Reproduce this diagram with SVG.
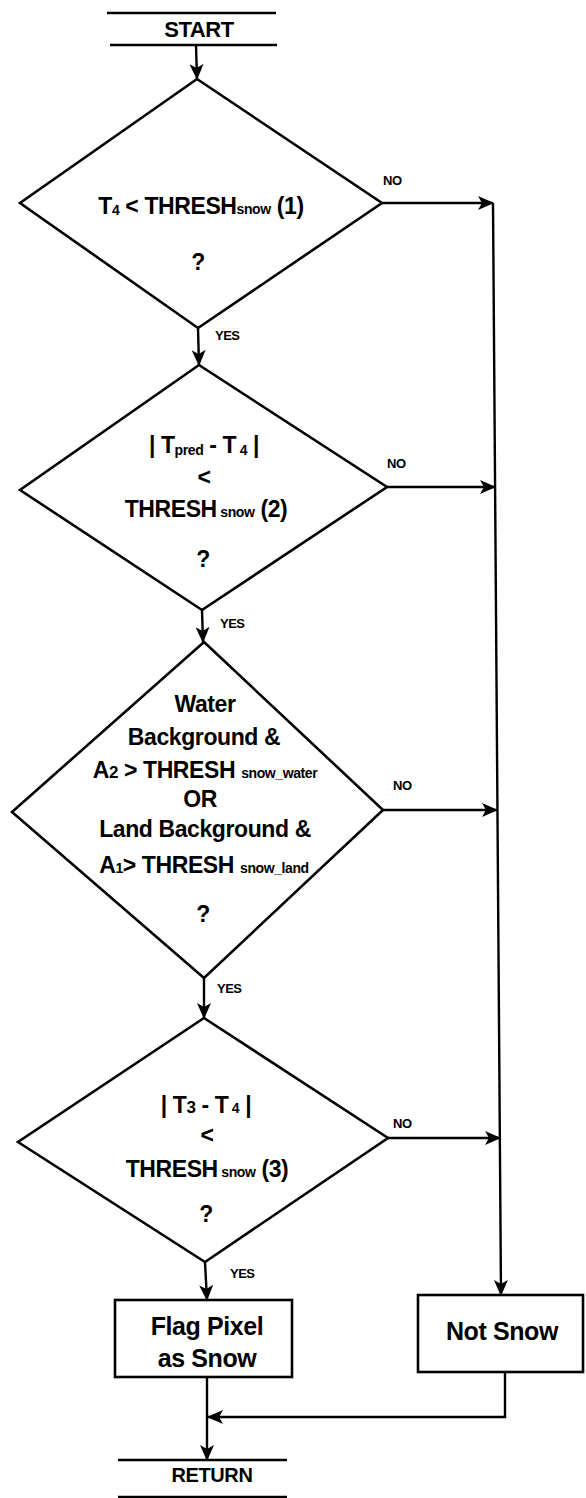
<svg xmlns="http://www.w3.org/2000/svg" width="586" height="1498" viewBox="0 0 586 1498">
<style>
.s{fill:none;stroke:#000;stroke-width:2.6;stroke-linejoin:miter}
.c{fill:none;stroke:#000;stroke-width:2.4}
.t{font-family:"Liberation Sans",Arial,sans-serif;font-weight:bold;fill:#000;text-anchor:middle;font-size:23px;letter-spacing:-0.4px}
.b{font-size:25px}
.sub{font-size:14px}
.l{font-family:"Liberation Sans",Arial,sans-serif;font-weight:bold;fill:#000;font-size:13px;letter-spacing:-0.5px}
</style>
<defs>
<marker id="ah" viewBox="0 0 16 14" refX="15" refY="7" markerWidth="16" markerHeight="14" markerUnits="userSpaceOnUse" orient="auto">
<path d="M0,0 L16,7 L0,14 L4,7 z" fill="#000"/>
</marker>
</defs>

<g id="start">
<line class="s" x1="107" y1="13" x2="276" y2="13"/>
<line class="s" x1="110" y1="45" x2="277" y2="45"/>
<text class="t" x="199" y="37" style="font-size:22px">START</text>
</g>

<g id="d1">
<polygon class="s" points="197,79 382,203 198,328 20,203"/>
<text class="t" x="201" y="214">T<tspan class="sub" dy="1">4</tspan><tspan dy="-1"> &lt; THRESH</tspan><tspan class="sub">snow</tspan> (1)</text>
<text class="t" x="198" y="270">?</text>
</g>

<g id="d2">
<polygon class="s" points="199,365 387,487 202,610 20,490"/>
<text class="t" x="204" y="453">| T<tspan class="sub" dy="2">pred</tspan><tspan dy="-2"> - T</tspan><tspan class="sub" dy="2"> 4</tspan><tspan dy="-2"> |</tspan></text>
<text class="t" x="204" y="485">&lt;</text>
<text class="t" x="206" y="517">THRESH<tspan class="sub"> snow</tspan> (2)</text>
<text class="t" x="203" y="567">?</text>
</g>

<g id="d3">
<polygon class="s" points="204,642 383,810 204,978 12,812"/>
<text class="t" x="205" y="712">Water</text>
<text class="t" x="204" y="745">Background &amp;</text>
<text class="t" x="205" y="778">A<tspan class="sub" style="font-size:17px">2</tspan> &gt; THRESH <tspan class="sub">snow_water</tspan></text>
<text class="t" x="200" y="807">OR</text>
<text class="t" x="205" y="837">Land Background &amp;</text>
<text class="t" x="204" y="873">A<tspan class="sub">1</tspan>&gt; THRESH <tspan class="sub">snow_land</tspan></text>
<text class="t" x="203" y="922">?</text>
</g>

<g id="d4">
<polygon class="s" points="204,1018 388,1138 205,1262 18,1142"/>
<text class="t" x="206" y="1113">| T<tspan class="sub" style="font-size:17px">3</tspan>  - T<tspan class="sub"> 4</tspan> |</text>
<text class="t" x="207" y="1143">&lt;</text>
<text class="t" x="207" y="1177">THRESH<tspan class="sub"> snow</tspan> (3)</text>
<text class="t" x="206" y="1222">?</text>
</g>

<g id="flag">
<rect class="s" x="115" y="1300" width="177" height="77"/>
<text class="t b" x="207" y="1335">Flag Pixel</text>
<text class="t b" x="207" y="1367">as Snow</text>
</g>

<g id="notsnow">
<rect class="s" x="418" y="1295" width="165" height="77"/>
<text class="t b" x="502" y="1340">Not Snow</text>
</g>

<g id="return">
<line class="s" x1="118" y1="1460" x2="287" y2="1460"/>
<line class="s" x1="118" y1="1497" x2="287" y2="1497"/>
<text class="t" x="212" y="1482" style="font-size:20px">RETURN</text>
</g>

<g id="connectors">
<line class="c" x1="196" y1="45" x2="197" y2="79" marker-end="url(#ah)"/>
<line class="c" x1="198" y1="328" x2="199" y2="365" marker-end="url(#ah)"/>
<line class="c" x1="202" y1="610" x2="203" y2="642" marker-end="url(#ah)"/>
<line class="c" x1="204" y1="978" x2="204" y2="1018" marker-end="url(#ah)"/>
<line class="c" x1="205" y1="1262" x2="207" y2="1300" marker-end="url(#ah)"/>
<line class="c" x1="382" y1="203" x2="493" y2="203" marker-end="url(#ah)"/>
<line class="c" x1="387" y1="487" x2="495" y2="487" marker-end="url(#ah)"/>
<line class="c" x1="383" y1="810" x2="497" y2="810" marker-end="url(#ah)"/>
<line class="c" x1="388" y1="1138" x2="500" y2="1138" marker-end="url(#ah)"/>
<line class="c" x1="493" y1="203" x2="501" y2="1295" marker-end="url(#ah)"/>
<polyline class="c" points="505,1372 505,1417 208,1417" marker-end="url(#ah)"/>
<line class="c" x1="207" y1="1377" x2="207" y2="1460" marker-end="url(#ah)"/>
<text class="l" x="383" y="185">NO</text>
<text class="l" x="387" y="468">NO</text>
<text class="l" x="393" y="790">NO</text>
<text class="l" x="393" y="1128">NO</text>
<text class="l" x="215" y="340">YES</text>
<text class="l" x="220" y="628">YES</text>
<text class="l" x="217" y="993">YES</text>
<text class="l" x="230" y="1278">YES</text>
</g>
</svg>
